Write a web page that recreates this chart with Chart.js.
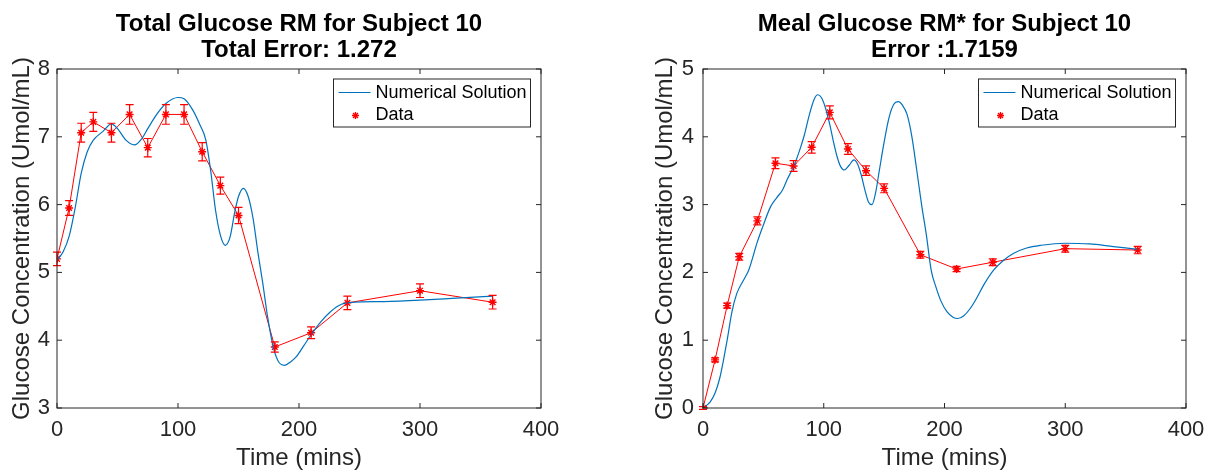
<!DOCTYPE html>
<html>
<head>
<meta charset="utf-8">
<script src="https://cdn.jsdelivr.net/npm/chart.js@4"></script>
<style>
  body { margin: 0; background: #fff; }
  #wrap { position: relative; width: 1214px; height: 473px; }
  canvas { position: absolute; top: 0; }
</style>
</head>
<body>
<div id="wrap">
  <canvas id="totalChart" width="607" height="473" style="left:0"></canvas>
  <canvas id="mealChart" width="574" height="473" style="left:640px"></canvas>
</div>
<script>
// measured sample times (mins)
const sampleTimes = [0, 10, 20, 30, 45, 60, 75, 90, 105, 120, 135, 150, 180, 210, 240, 300, 360];

// total glucose data + error
const totalData = [5.20, 5.95, 7.06, 7.22, 7.06, 7.33, 6.84, 7.33, 7.33, 6.78, 6.28, 5.84, 3.90, 4.11, 4.55, 4.73, 4.56];
const totalErr = [0.10, 0.11, 0.14, 0.14, 0.14, 0.145, 0.135, 0.145, 0.145, 0.135, 0.125, 0.12, 0.076, 0.088, 0.10, 0.10, 0.10];

// total glucose model curve
const totalModelTimes = [0, 5, 10, 15, 20, 25, 30, 38, 45, 50, 57, 64, 70, 75, 82, 90, 100, 105, 112, 118, 123, 127, 131, 135, 139, 143, 147, 150, 154, 158, 162, 166, 170, 174, 179, 184, 188, 193, 198, 204, 210, 218, 226, 235, 245, 270, 300, 330, 360];
const totalModel = [5.18, 5.30, 5.53, 5.95, 6.46, 6.78, 6.95, 7.08, 7.19, 7.12, 6.95, 6.88, 6.97, 7.12, 7.32, 7.49, 7.58, 7.56, 7.40, 7.18, 6.95, 6.50, 5.92, 5.55, 5.40, 5.52, 5.90, 6.12, 6.24, 6.12, 5.80, 5.30, 4.85, 4.35, 3.88, 3.66, 3.63, 3.68, 3.76, 3.92, 4.08, 4.27, 4.42, 4.53, 4.56, 4.57, 4.59, 4.62, 4.65];

// meal glucose data + error
const mealData = [0, 0.71, 1.51, 2.23, 2.76, 3.61, 3.57, 3.845, 4.36, 3.82, 3.50, 3.24, 2.26, 2.05, 2.15, 2.35, 2.33];
const mealErr = [0.02, 0.03, 0.037, 0.05, 0.06, 0.08, 0.08, 0.085, 0.095, 0.08, 0.07, 0.065, 0.05, 0.04, 0.05, 0.05, 0.055];

// meal glucose model curve
const mealModelTimes = [0, 6, 10, 14, 17, 20, 24, 28, 34, 38, 45, 50, 56, 61, 66, 70, 75, 80, 84, 88, 92, 95, 98, 101, 105, 108, 111, 114, 117, 121, 125, 128, 131, 134, 137, 140, 143, 146, 150, 154, 158, 162, 165, 169, 173, 177, 181, 185, 189, 193, 197, 202, 207, 211, 216, 221, 226, 233, 241, 249, 257, 268, 280, 300, 320, 340, 360];
const mealModel = [0, 0.09, 0.22, 0.45, 0.71, 1.0, 1.42, 1.69, 1.90, 2.04, 2.45, 2.70, 2.97, 3.10, 3.22, 3.38, 3.56, 3.80, 4.03, 4.32, 4.55, 4.62, 4.58, 4.45, 4.18, 3.93, 3.71, 3.56, 3.51, 3.58, 3.66, 3.60, 3.44, 3.22, 3.04, 3.00, 3.18, 3.50, 3.92, 4.28, 4.48, 4.52, 4.47, 4.33, 4.00, 3.51, 3.00, 2.55, 2.03, 1.78, 1.58, 1.42, 1.34, 1.32, 1.36, 1.46, 1.60, 1.83, 2.04, 2.18, 2.28, 2.36, 2.40, 2.43, 2.42, 2.38, 2.34];

const xTicks = [0, 100, 200, 300, 400];

const FONT = "'Liberation Sans', Arial, Helvetica, sans-serif";
const BLUE = "#0072BD";
const RED = "#FF0000";
const AXIS = "#262626";

function toPoints(xs, ys) {
  return xs.map((x, i) => ({ x: x, y: ys[i] }));
}

const errorBars = {
  id: "errorBars",
  afterDatasetsDraw(chart) {
    const ctx = chart.ctx;
    const xs = chart.scales.x;
    const ys = chart.scales.y;
    chart.data.datasets.forEach((ds) => {
      if (!ds.errors) return;
      ctx.save();
      ctx.strokeStyle = ds.borderColor;
      ctx.lineWidth = 1.2;
      ctx.beginPath();
      ds.data.forEach((p, i) => {
        const px = xs.getPixelForValue(p.x);
        const top = ys.getPixelForValue(p.y + ds.errors[i]);
        const bot = ys.getPixelForValue(p.y - ds.errors[i]);
        ctx.moveTo(px, top);
        ctx.lineTo(px, bot);
        ctx.moveTo(px - 4, top);
        ctx.lineTo(px + 4, top);
        ctx.moveTo(px - 4, bot);
        ctx.lineTo(px + 4, bot);
      });
      ctx.stroke();
      ctx.restore();
    });
  },
};

// matlab style box with inward ticks on all sides
const axesBox = {
  id: "axesBox",
  afterDraw(chart) {
    const { ctx, chartArea: a, scales } = chart;
    ctx.save();
    ctx.strokeStyle = AXIS;
    ctx.lineWidth = 1;
    ctx.strokeRect(a.left, a.top, a.right - a.left, a.bottom - a.top);
    ctx.beginPath();
    scales.x.ticks.forEach((t) => {
      const px = scales.x.getPixelForValue(t.value);
      ctx.moveTo(px, a.bottom);
      ctx.lineTo(px, a.bottom - 5);
      ctx.moveTo(px, a.top);
      ctx.lineTo(px, a.top + 5);
    });
    scales.y.ticks.forEach((t) => {
      const py = scales.y.getPixelForValue(t.value);
      ctx.moveTo(a.left, py);
      ctx.lineTo(a.left + 5, py);
      ctx.moveTo(a.right, py);
      ctx.lineTo(a.right - 5, py);
    });
    ctx.stroke();
    ctx.restore();
  },
};

const boxLegend = {
  id: "boxLegend",
  afterDraw(chart) {
    const { ctx, chartArea: a } = chart;
    const w = 197, h = 48;
    const left = a.right - 10.5 - w;
    const top = a.top + 10;
    const model = chart.data.datasets[0];
    const data = chart.data.datasets[1];
    ctx.save();
    ctx.fillStyle = "#fff";
    ctx.fillRect(left, top, w, h);
    ctx.strokeStyle = AXIS;
    ctx.lineWidth = 1;
    ctx.strokeRect(left, top, w, h);

    ctx.strokeStyle = model.borderColor;
    ctx.lineWidth = 1.2;
    ctx.beginPath();
    ctx.moveTo(left + 5, top + 13.5);
    ctx.lineTo(left + 37, top + 13.5);
    ctx.stroke();

    ctx.strokeStyle = data.borderColor;
    ctx.lineWidth = 1.3;
    Chart.helpers.drawPoint(ctx, { pointStyle: "star", radius: 3.5, rotation: 0, borderWidth: 1.3 }, left + 22, top + 36.5);

    ctx.fillStyle = "#000";
    ctx.font = "18px " + FONT;
    ctx.textBaseline = "middle";
    ctx.fillText(model.label, left + 42, top + 14.5);
    ctx.fillText(data.label, left + 42, top + 36);
    ctx.restore();
  },
};

function makeChart(id, cfg) {
  const ctx = document.getElementById(id).getContext("2d");
  return new Chart(ctx, {
    type: "line",
    data: {
      datasets: [
        {
          label: "Numerical Solution",
          data: toPoints(cfg.modelTimes, cfg.model),
          borderColor: BLUE,
          borderWidth: 1.2,
          pointRadius: 0,
          cubicInterpolationMode: "monotone",
          fill: false,
        },
        {
          label: "Data",
          data: toPoints(sampleTimes, cfg.data),
          errors: cfg.errors,
          borderColor: RED,
          backgroundColor: RED,
          borderWidth: 1,
          pointStyle: "star",
          pointRadius: 4,
          pointBorderWidth: 1.4,
          pointBorderColor: RED,
          tension: 0,
          fill: false,
        },
      ],
    },
    options: {
      responsive: false,
      animation: false,
      devicePixelRatio: 1,
      layout: { padding: { left: 0, right: cfg.padRight, top: 0, bottom: 0 } },
      plugins: {
        legend: { display: false },
        tooltip: { enabled: false },
        title: {
          display: true,
          text: cfg.title,
          fullSize: false,
          color: "#000",
          font: { family: FONT, size: 24, weight: "bold", lineHeight: 1.1 },
          padding: { top: 11, bottom: 5.2 },
        },
      },
      scales: {
        x: {
          type: "linear",
          min: 0,
          max: 400,
          afterBuildTicks: (scale) => {
            scale.ticks = xTicks.map((v) => ({ value: v }));
          },
          afterFit: (scale) => {
            scale.height = 65;
          },
          grid: { display: false, drawTicks: false },
          border: { display: false },
          ticks: {
            color: AXIS,
            padding: 9,
            maxRotation: 0,
            font: { family: FONT, size: 22 },
          },
          title: {
            display: true,
            text: "Time (mins)",
            color: AXIS,
            font: { family: FONT, size: 24, lineHeight: 1.2 },
            padding: { top: 0, bottom: 0.5 },
          },
        },
        y: {
          min: cfg.yMin,
          max: cfg.yMax,
          afterBuildTicks: (scale) => {
            scale.ticks = cfg.yTicks.map((v) => ({ value: v }));
          },
          afterFit: (scale) => {
            scale.width = cfg.yWidth;
          },
          grid: { display: false, drawTicks: false },
          border: { display: false },
          ticks: {
            color: AXIS,
            padding: cfg.yTickPad,
            font: { family: FONT, size: 22 },
          },
          title: {
            display: true,
            text: "Glucose Concentration (Umol/mL)",
            color: AXIS,
            font: { family: FONT, size: 24, lineHeight: 1.2 },
            padding: { top: cfg.yTitlePad, bottom: 0 },
          },
        },
      },
    },
    plugins: [errorBars, axesBox, boxLegend],
  });
}

makeChart("totalChart", {
  title: ["Total Glucose RM for Subject 10", "Total Error: 1.272"],
  modelTimes: totalModelTimes,
  model: totalModel,
  data: totalData,
  errors: totalErr,
  yMin: 3,
  yMax: 8,
  yTicks: [3, 4, 5, 6, 7, 8],
  yWidth: 57,
  yTickPad: 7,
  yTitlePad: 7.6,
  padRight: 66,
});

makeChart("mealChart", {
  title: ["Meal Glucose RM* for Subject 10", "Error :1.7159"],
  modelTimes: mealModelTimes,
  model: mealModel,
  data: mealData,
  errors: mealErr,
  yMin: 0,
  yMax: 5,
  yTicks: [0, 1, 2, 3, 4, 5],
  yWidth: 63,
  yTickPad: 9,
  yTitlePad: 10.6,
  padRight: 28,
});
</script>
</body>
</html>
